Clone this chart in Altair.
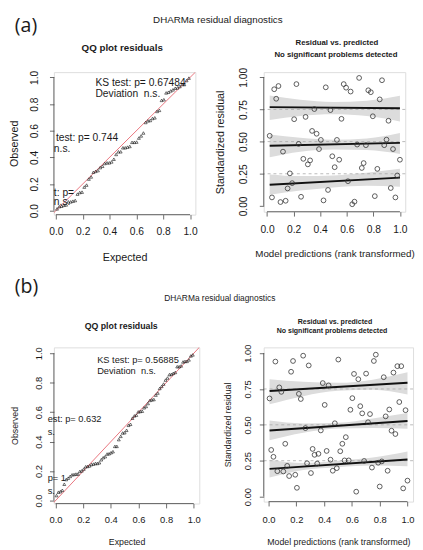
import altair as alt
import pandas as pd

FONT = "Liberation Sans"
HEAD_FONT = "Open Sans"

# ---------------- data ----------------
# (a) residual vs predicted (rank transformed)
a_pred = [0.054, 0.086, 0.069, 0.221, 0.442, 0.577, 0.595, 0.629, 0.693, 0.762,
          0.781, 0.865, 0.848, 0.020, 0.204, 0.290, 0.356, 0.477, 0.560, 0.796,
          0.914, 0.339, 0.373, 0.405, 0.238, 0.120, 0.391, 0.526, 0.678, 0.744,
          0.899, 0.882, 0.948, 0.273, 0.324, 0.307, 0.491, 0.543, 0.509, 0.727,
          0.713, 0.830, 1.000, 0.172, 0.189, 0.155, 0.609, 0.980, 0.459, 0.037,
          0.101, 0.140, 0.256, 0.425, 0.641, 0.658, 0.811, 0.931, 0.966]
a_resid = [0.907, 0.932, 0.833, 0.947, 0.922, 0.947, 0.919, 0.889, 0.995, 0.899,
           0.884, 0.977, 0.828, 0.545, 0.674, 0.692, 0.753, 0.745, 0.677, 0.697,
           0.662, 0.583, 0.561, 0.513, 0.482, 0.422, 0.442, 0.513, 0.477, 0.472,
           0.515, 0.472, 0.442, 0.366, 0.354, 0.323, 0.386, 0.359, 0.301, 0.333,
           0.295, 0.288, 0.359, 0.253, 0.177, 0.136, 0.192, 0.237, 0.124, 0.066,
           0.030, 0.040, 0.071, 0.043, 0.013, 0.033, 0.076, 0.139, 0.066]

# (b)
b_pred = [0.049, 0.176, 0.249, 0.162, 0.289, 0.502, 0.615, 0.646, 0.702, 0.758,
          0.772, 0.829, 0.899, 0.927, 0.955,
          0.077, 0.092, 0.007, 0.218, 0.232, 0.390, 0.432, 0.404, 0.603, 0.589,
          0.660, 0.674, 0.730, 0.869, 0.843, 0.941, 0.986,
          0.265, 0.376, 0.477, 0.716, 0.885, 0.913,
          0.019, 0.035, 0.120, 0.556, 0.531, 0.317, 0.331, 0.359, 0.418, 0.516,
          0.063, 0.106, 0.134, 0.148, 0.192, 0.204, 0.277, 0.305, 0.350, 0.446,
          0.462, 0.491, 0.547, 0.577, 0.688, 0.744, 0.789, 0.815, 0.857,
          0.631, 0.800, 0.969, 1.000]
b_resid = [0.941, 0.945, 0.982, 0.870, 0.914, 0.955, 0.855, 0.818, 0.857, 0.945,
           0.989, 0.832, 0.864, 0.909, 0.909,
           0.761, 0.730, 0.684, 0.716, 0.680, 0.791, 0.775, 0.639, 0.686, 0.605,
           0.630, 0.580, 0.575, 0.607, 0.559, 0.659, 0.602,
           0.477, 0.461, 0.511, 0.518, 0.459, 0.436,
           0.325, 0.277, 0.368, 0.414, 0.368, 0.332, 0.291, 0.298, 0.318, 0.316,
           0.177, 0.175, 0.214, 0.143, 0.152, 0.061, 0.232, 0.164, 0.230, 0.257,
           0.180, 0.198, 0.252, 0.252, 0.248, 0.202, 0.236, 0.245, 0.180,
           0.034, 0.070, 0.057, 0.111]

# quantile regression fits (start / end)
a_fit_x = [0.02, 1.0]
a_fit_q25 = [0.164, 0.220]
a_fit_q50 = [0.467, 0.490]
a_fit_q75 = [0.768, 0.760]
b_fit_x = [0.007, 1.0]
b_fit_q25 = [0.193, 0.259]
b_fit_q50 = [0.461, 0.527]
b_fit_q75 = [0.736, 0.793]

# confidence bands
a_band_x = [0.02, 0.25, 0.5, 0.75, 1.0]
a_lo25 = [0.086, 0.119, 0.144, 0.157, 0.149]
a_hi25 = [0.245, 0.232, 0.237, 0.258, 0.288]
a_lo50 = [0.379, 0.422, 0.439, 0.434, 0.404]
a_hi50 = [0.556, 0.530, 0.515, 0.525, 0.566]
a_lo75 = [0.667, 0.699, 0.712, 0.699, 0.657]
a_hi75 = [0.859, 0.826, 0.808, 0.818, 0.856]
b_band_x = [0.007, 0.25, 0.5, 0.75, 1.0]
b_lo25 = [0.132, 0.186, 0.205, 0.216, 0.211]
b_hi25 = [0.257, 0.234, 0.250, 0.272, 0.314]
b_lo50 = [0.393, 0.445, 0.474, 0.478, 0.473]
b_hi50 = [0.530, 0.510, 0.514, 0.545, 0.582]
b_lo75 = [0.643, 0.700, 0.737, 0.745, 0.711]
b_hi75 = [0.818, 0.800, 0.793, 0.815, 0.866]

qq_ticks = [0, 0.2, 0.4, 0.6, 0.8, 1.0]
res_y_ticks = [0, 0.25, 0.5, 0.75, 1.0]
ref_levels = [0.25, 0.5, 0.75]
ref_diag = [-0.2, 1.2]

a_label, b_label = "(a)", "(b)"
suptitle = "DHARMa residual diagnostics"
qq_title = "QQ plot residuals"
rv_title1 = "Residual vs. predicted"
rv_title2 = "No significant problems detected"
a_ks = ["KS test: p= 0.67484", "Deviation\u00a0 n.s."]
a_disp = ["test: p= 0.744", "n.s."]
a_out = ["t: p=", "n.s."]
b_ks = ["KS test: p= 0.56885", "Deviation\u00a0 n.s."]
b_disp = ["est: p= 0.632", "s."]
b_out = ["p= 1", "s."]

AX = "#444444"
TXT = "#1a1a1a"
ONE = pd.DataFrame({"k": [0]})


def make_axis(title, fmt, values, lab_fs, lab_pad, tit_fs, tit_pad, vertical):
    kw = dict(values=values, format=fmt, title=title, domain=False, grid=False,
              ticks=True, tickSize=4.5, tickColor=AX, tickWidth=0.8,
              labelFont=FONT, labelFontSize=lab_fs, labelColor=TXT,
              labelPadding=lab_pad, labelFlush=False, labelOverlap=False,
              titleFont=FONT, titleFontSize=tit_fs, titleFontWeight="normal",
              titleColor=TXT, titlePadding=tit_pad)
    if vertical:
        kw.update(labelAngle=-90, labelAlign="center", labelBaseline="bottom")
    return alt.Axis(**kw)


def dtext(s, x, y, xs, ys, xax, yax, size):
    return alt.Chart(pd.DataFrame({"t": [s]})).mark_text(
        align="left", baseline="middle", font=FONT, fontSize=size, color=TXT
    ).encode(x=alt.XDatum(x, scale=xs, axis=xax),
             y=alt.YDatum(y, scale=ys, axis=yax), text="t:N")


def ptext(s, x, y, size, weight="normal", align="center", baseline="middle", font=FONT):
    return alt.Chart(pd.DataFrame({"t": [s]})).mark_text(
        align=align, baseline=baseline, font=font, fontSize=size,
        fontWeight=weight, color=TXT
    ).encode(x=alt.value(x), y=alt.value(y), text="t:N")


def axis_lines(xs, ys, xax, yax, xmin, ymin):
    lx = alt.Chart(ONE).mark_rule(color=AX, strokeWidth=0.8).encode(
        x=alt.XDatum(0, scale=xs, axis=xax), x2=alt.X2Datum(1),
        y=alt.YDatum(ymin, scale=ys, axis=yax))
    ly = alt.Chart(ONE).mark_rule(color=AX, strokeWidth=0.8).encode(
        x=alt.XDatum(xmin, scale=xs, axis=xax),
        y=alt.YDatum(0, scale=ys, axis=yax), y2=alt.Y2Datum(1))
    return [lx, ly]


def qq_panel(resid, xdom, ydom, w, h, xax, yax, pt_size, texts, headers):
    xs = alt.Scale(domain=xdom, nice=False, zero=False)
    ys = alt.Scale(domain=ydom, nice=False, zero=False)
    diag = alt.Chart(pd.DataFrame({"r": ref_diag})).mark_line(
        color="#e8737c", strokeWidth=1, clip=True
    ).encode(x=alt.X("r:Q", scale=xs, axis=xax), y=alt.Y("r:Q", scale=ys, axis=yax))
    pts = alt.Chart(pd.DataFrame({"obs": resid})).transform_window(
        rank="row_number()", sort=[alt.SortField("obs", order="ascending")]
    ).transform_joinaggregate(n="count()").transform_calculate(
        expected="(datum.rank - 0.5) / datum.n"
    ).mark_point(shape="triangle-up", filled=False, size=pt_size, strokeWidth=0.6,
                 color="#111111", opacity=1).encode(
        x=alt.X("expected:Q", scale=xs, axis=xax),
        y=alt.Y("obs:Q", scale=ys, axis=yax))
    layers = [diag, pts] + axis_lines(xs, ys, xax, yax, xdom[0], ydom[0])
    layers += [dtext(s, x, y, xs, ys, xax, yax, fs) for (s, x, y, fs) in texts]
    layers += headers
    return alt.layer(*layers).properties(width=w, height=h)


def rv_panel(pred, resid, fit_x, fits, band_x, bands, xdom, ydom, w, h, xax, yax, headers):
    xs = alt.Scale(domain=xdom, nice=False, zero=False)
    ys = alt.Scale(domain=ydom, nice=False, zero=False)
    brows = []
    for q, (lo, hi) in bands.items():
        for x, l, u in zip(band_x, lo, hi):
            brows.append({"x": x, "lo": l, "hi": u, "q": q})
    frows = []
    for q, ys_ in fits.items():
        for x, y in zip(fit_x, ys_):
            frows.append({"x": x, "y": y, "q": q})
    band = alt.Chart(pd.DataFrame(brows)).mark_area(
        color="#dcdcdc", opacity=1, interpolate="monotone"
    ).encode(x=alt.X("x:Q", scale=xs, axis=xax), y=alt.Y("lo:Q", scale=ys, axis=yax),
             y2="hi:Q", detail="q:N")
    dash = alt.Chart(pd.DataFrame({"h": ref_levels})).mark_rule(
        color="#a8a8a8", strokeWidth=0.8, strokeDash=[3, 3]
    ).encode(y=alt.Y("h:Q", scale=ys, axis=yax))
    fit = alt.Chart(pd.DataFrame(frows)).mark_line(color="#111111", strokeWidth=2).encode(
        x=alt.X("x:Q", scale=xs, axis=xax), y=alt.Y("y:Q", scale=ys, axis=yax),
        detail="q:N")
    pts = alt.Chart(pd.DataFrame({"p": pred, "r": resid})).mark_point(
        shape="circle", filled=False, size=24, strokeWidth=0.8, color="#333333", opacity=1
    ).encode(x=alt.X("p:Q", scale=xs, axis=xax), y=alt.Y("r:Q", scale=ys, axis=yax))
    layers = [band, dash, fit, pts] + axis_lines(xs, ys, xax, yax, xdom[0], ydom[0]) + headers
    return alt.layer(*layers).properties(width=w, height=h)


# ---------------- panel (a) ----------------
a_left = qq_panel(
    a_resid, [-0.015, 1.04], [-0.03, 1.04], 145, 146,
    make_axis("Expected", ".1f", qq_ticks, 10.5, 8, 11, 14.5, False),
    make_axis("Observed", ".1f", qq_ticks, 10.5, 10.5, 11, 10, True),
    9,
    [(a_ks[0], 0.295, 0.958, 10.5), (a_ks[1], 0.295, 0.878, 10.5),
     (a_disp[0], 0.0, 0.546, 10.5), (a_disp[1], -0.015, 0.463, 10.5),
     (a_out[0], -0.015, 0.134, 10.5), (a_out[1], -0.015, 0.061, 10.5)],
    [ptext(a_label, -40, -47, 20, align="left", baseline="middle", font=HEAD_FONT),
     ptext(suptitle, 168, -53, 10),
     ptext(qq_title, 70, -25, 10, weight="bold")],
)

a_right = rv_panel(
    a_pred, a_resid, a_fit_x,
    {"q25": a_fit_q25, "q50": a_fit_q50, "q75": a_fit_q75},
    a_band_x, {"q25": (a_lo25, a_hi25), "q50": (a_lo50, a_hi50), "q75": (a_lo75, a_hi75)},
    [-0.025, 1.04], [-0.045, 1.04], 145, 143,
    make_axis("Model predictions (rank transformed)", ".1f", qq_ticks, 10.5, 9, 10, 13.5, False),
    make_axis("Standardized residual", ".2f", res_y_ticks, 10.5, 11.5, 11, 13, True),
    [ptext(rv_title1, 75, -30, 8, weight="bold"),
     ptext(rv_title2, 74, -18, 8, weight="bold")],
)

# ---------------- panel (b) ----------------
b_left = qq_panel(
    b_resid, [-0.012, 1.04], [-0.02, 1.04], 149, 160,
    make_axis("Expected", ".1f", qq_ticks, 9.6, 7, 9, 14, False),
    make_axis("Observed", ".1f", qq_ticks, 9.6, 6, 9, 15, True),
    9,
    [(b_ks[0], 0.301, 0.956, 9.5), (b_ks[1], 0.301, 0.879, 9.5),
     (b_disp[0], -0.057, 0.555, 9.5), (b_disp[1], -0.057, 0.467, 9.5),
     (b_out[0], -0.057, 0.152, 9.5), (b_out[1], -0.057, 0.064, 9.5)],
    [ptext(b_label, -40, -62, 20, align="left", baseline="middle", font=HEAD_FONT),
     ptext(suptitle, 170, -50, 8.6),
     ptext(qq_title, 69, -22, 9, weight="bold")],
)

b_right = rv_panel(
    b_pred, b_resid, b_fit_x,
    {"q25": b_fit_q25, "q50": b_fit_q50, "q75": b_fit_q75},
    b_band_x, {"q25": (b_lo25, b_hi25), "q50": (b_lo50, b_hi50), "q75": (b_lo75, b_hi75)},
    [-0.035, 1.04], [-0.035, 1.04], 153, 158,
    make_axis("Model predictions (rank transformed)", ".1f", qq_ticks, 9.6, 8.5, 9, 14, False),
    make_axis("Standardized residual", ".2f", res_y_ticks, 9.6, 7, 9, 10.5, True),
    [ptext(rv_title1, 73, -26, 7.2, weight="bold"),
     ptext(rv_title2, 70, -17, 7.2, weight="bold")],
)

chart = alt.concat(
    a_left, a_right, b_left, b_right,
    columns=2, spacing={"row": 136, "column": 66}, bounds="flush", align="each",
    padding=0,
).configure_view(stroke=None).configure(background="white")

chart.save("out.html", embed_options={"renderer": "svg", "actions": False})
